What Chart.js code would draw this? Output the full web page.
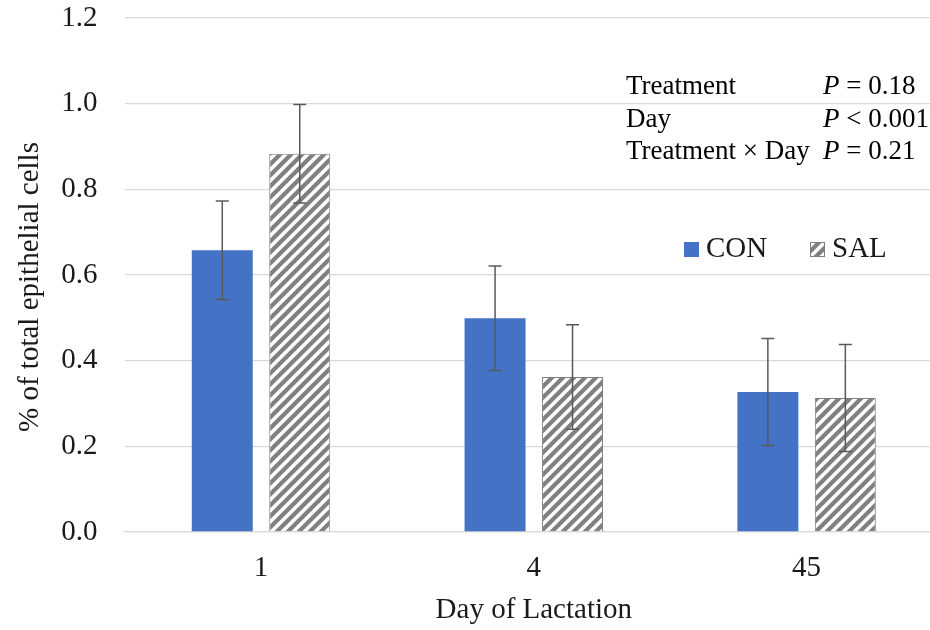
<!DOCTYPE html>
<html>
<head>
<meta charset="utf-8">
<script src="https://cdn.jsdelivr.net/npm/chart.js@4.4.0/dist/chart.umd.min.js"></script>
<style>
  html, body { margin: 0; padding: 0; background: #fff; overflow: hidden; }
</style>
</head>
<body>
<canvas id="barChart" width="944" height="630"></canvas>
<script>
// Values
var days = ["1", "4", "45"];
var conValues = [0.658, 0.499, 0.327];
var conErrors = [0.115, 0.122, 0.125];
var salValues = [0.883, 0.362, 0.313];
var salErrors = [0.115, 0.122, 0.125];
var yTickLabels = ["0.0", "0.2", "0.4", "0.6", "0.8", "1.0", "1.2"];
var yTitle = "% of total epithelial cells";

// Stats box text
var statLabels = ["Treatment", "Day", "Treatment \u00d7 Day"];
var statSigns = ["=", "<", "="];
var statValues = ["0.18", "0.001", "0.21"];

var serif = "'Liberation Serif', 'Times New Roman', serif";
var textColor = "#1a1a1a";

// Wide upward diagonal hatch for SAL
function makeHatch() {
  var s = 11;
  var c = document.createElement("canvas");
  c.width = s;
  c.height = s;
  var g = c.getContext("2d");
  g.fillStyle = "#808080";
  g.fillRect(0, 0, s, s);
  g.strokeStyle = "#ffffff";
  g.lineWidth = 3.6;
  g.beginPath();
  g.moveTo(-1, s + 1); g.lineTo(s + 1, -1);
  g.moveTo(-3, 3); g.lineTo(3, -3);
  g.moveTo(s - 3, s + 3); g.lineTo(s + 3, s - 3);
  g.stroke();
  return g.createPattern(c, "repeat");
}

var ctx_bar = document.getElementById("barChart").getContext("2d");
var hatch = makeHatch();

// error bars drawn from each dataset's errors array
var errorBars = {
  id: "errorBars",
  afterDatasetsDraw: function (chart) {
    var ctx = chart.ctx;
    var yScale = chart.scales.y;
    ctx.save();
    ctx.strokeStyle = "#595959";
    ctx.lineWidth = 1.5;
    chart.data.datasets.forEach(function (ds, di) {
      var meta = chart.getDatasetMeta(di);
      meta.data.forEach(function (bar, i) {
        var top = yScale.getPixelForValue(ds.data[i] + ds.errors[i]);
        var bot = yScale.getPixelForValue(ds.data[i] - ds.errors[i]);
        ctx.beginPath();
        ctx.moveTo(bar.x, top); ctx.lineTo(bar.x, bot);
        ctx.moveTo(bar.x - 6.5, top); ctx.lineTo(bar.x + 6.5, top);
        ctx.moveTo(bar.x - 6.5, bot); ctx.lineTo(bar.x + 6.5, bot);
        ctx.stroke();
      });
    });
    ctx.restore();
  },
};

// P-value box, legend and y title (sits a bit lower than the axis centre)
var statsAndLegend = {
  id: "statsAndLegend",
  afterDraw: function (chart) {
    var ctx = chart.ctx;
    ctx.save();
    ctx.fillStyle = "#000";
    ctx.textBaseline = "middle";
    ctx.textAlign = "left";
    var rowsY = [86.5, 119.5, 151.5];
    for (var i = 0; i < statLabels.length; i++) {
      ctx.font = "27px " + serif;
      ctx.fillText(statLabels[i], 626, rowsY[i]);
      ctx.font = "italic 27px " + serif;
      ctx.fillText("P", 823, rowsY[i]);
      var w = ctx.measureText("P").width;
      ctx.font = "27px " + serif;
      ctx.fillText(" " + statSigns[i] + " " + statValues[i], 823 + w, rowsY[i]);
    }

    // legend
    var ly = 249.5;
    var items = [
      { x: 684, fill: "#4472c4", border: null },
      { x: 810, fill: hatch, border: "#7f7f7f" },
    ];
    chart.data.datasets.forEach(function (ds, di) {
      var it = items[di];
      ctx.fillStyle = it.fill;
      ctx.fillRect(it.x, ly - 7.5, 15, 15);
      if (it.border) {
        ctx.strokeStyle = it.border;
        ctx.lineWidth = 1;
        ctx.strokeRect(it.x + 0.5, ly - 7, 14, 14);
      }
      ctx.fillStyle = textColor;
      ctx.font = "29px " + serif;
      ctx.fillText(ds.label, it.x + 22, ly);
    });

    // y axis title
    ctx.translate(30.5, 287);
    ctx.rotate(-Math.PI / 2);
    ctx.textAlign = "center";
    ctx.fillStyle = textColor;
    ctx.font = "29px " + serif;
    ctx.fillText(yTitle, 0, 0);
    ctx.restore();
  },
};

var barChart = new Chart(ctx_bar, {
  type: "bar",
  data: {
    labels: days,
    datasets: [
      {
        label: "CON",
        data: conValues,
        errors: conErrors,
        backgroundColor: "#4472c4",
        borderWidth: 0,
      },
      {
        label: "SAL",
        data: salValues,
        errors: salErrors,
        backgroundColor: hatch,
        borderColor: "#7f7f7f",
        borderWidth: 1,
      },
    ],
  },
  options: {
    responsive: false,
    animation: false,
    categoryPercentage: 0.568,
    barPercentage: 0.787,
    layout: { padding: { left: 0, right: 1, top: 0, bottom: 0 } },
    plugins: {
      legend: { display: false },
      tooltip: { enabled: false },
    },
    scales: {
      x: {
        grid: { display: false, drawTicks: false },
        border: { display: true, color: "#d9d9d9", width: 1.3 },
        ticks: { padding: 19, color: textColor, font: { family: serif, size: 29 } },
        title: {
          display: true,
          text: "Day of Lactation",
          color: textColor,
          font: { family: serif, size: 29 },
          padding: { top: 0, bottom: 2 },
        },
        afterFit: function (scale) { scale.height = 98; },
      },
      y: {
        min: 0,
        max: 1.2,
        border: { display: false },
        grid: { color: "#d9d9d9", lineWidth: 1.3, drawTicks: false },
        ticks: {
          stepSize: 0.2,
          padding: 27,
          color: textColor,
          font: { family: serif, size: 29 },
          callback: function (v, i) { return yTickLabels[i]; },
        },
        title: { display: false },
        afterFit: function (scale) {
          scale.width = 124.6;
          scale.paddingTop = 18;
          scale.paddingBottom = 0;
        },
      },
    },
  },
  plugins: [errorBars, statsAndLegend],
});
</script>
</body>
</html>
